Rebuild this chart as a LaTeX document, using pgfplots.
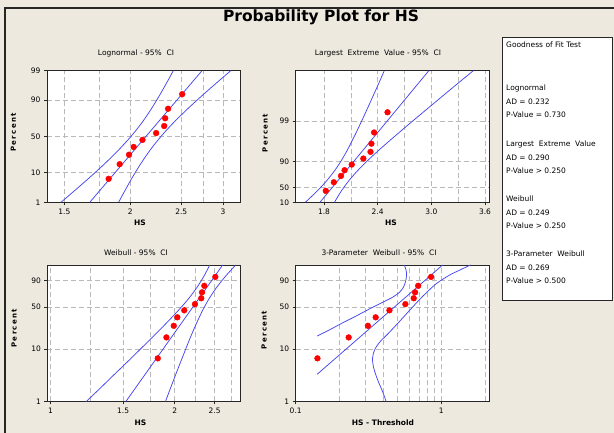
\documentclass[border=0pt]{standalone}
\usepackage{pgfplots}
\pgfplotsset{compat=1.18}
\usepackage{fontspec}
\setmainfont{DejaVu Sans}
\definecolor{bg}{RGB}{237,233,223}
\definecolor{cib}{RGB}{70,70,240}
\definecolor{grd}{RGB}{185,185,185}
\newcommand{\sm}{\fontsize{7.5}{9}\selectfont}
\newcommand{\bsm}{\bfseries\fontsize{7.5}{9}\selectfont}
\newcommand{\pct}{P\hspace{1.3pt}e\hspace{1.3pt}r\hspace{1.3pt}c\hspace{1.3pt}e\hspace{1.3pt}n\hspace{1.3pt}t}
\pgfplotsset{mm/.style={
  scale only axis, anchor=south west,
  axis line style={black!85, line width=0.9pt},
  tick align=outside, major tick length=3pt, minor tick length=0pt,
  tick pos=left,
  tick style={black!85, line width=0.6pt},
  grid=both,
  major grid style={grd, dash pattern=on 5pt off 3pt, line width=0.6pt},
  minor grid style={grd, dash pattern=on 5pt off 3pt, line width=0.6pt},
  ticklabel style={font=\sm},
  axis background/.style={fill=white},
  /pgf/number format/assume math mode=true,
},
ci/.style={cib, line width=0.75pt, smooth, tension=0.5},
pts/.style={only marks, mark=*, mark size=2.9pt, color=red, mark options={fill=red, draw=red}},
}
\begin{document}
\begin{tikzpicture}
\useasboundingbox (0,0) rectangle (614pt,433pt);
\fill[bg] (0,0) rectangle (614pt,433pt);
\draw[black!85, line width=1.3pt] (5pt,0) -- (5pt,425pt) -- (614pt,425pt);
\node[font=\bfseries\fontsize{15.5}{18}\selectfont] at (321pt,416pt) {Probability Plot for HS};

% ---------- Lognormal ----------
\begin{axis}[mm, at={(47pt,230.7pt)}, width=193pt, height=131.6pt,
  xmode=log, xmin=1.390, xmax=3.232, ymin=-2.3263, ymax=2.3263,
  xtick={1.5,2,2.5,3}, xticklabels={1.5,2,2.5,3}, minor xtick={1.75,2.75},
  ytick={-2.3263,-1.2816,0,1.2816,2.3263}, yticklabels={1,10,50,90,99}]
\addplot[ci] coordinates {(1.676,-2.3263) (2.737,2.3263)};
\addplot[ci] coordinates {(1.478,-2.3263) (1.549,-2) (1.663,-1.5) (1.780,-1) (1.896,-0.5) (2.006,0) (2.107,0.5) (2.197,1) (2.281,1.5) (2.362,2) (2.414,2.3263)};
\addplot[ci] coordinates {(1.901,-2.3263) (1.943,-2) (2.011,-1.5) (2.088,-1) (2.178,-0.5) (2.287,0) (2.420,0.5) (2.578,1) (2.759,1.5) (2.961,2) (3.104,2.3263)};
\addplot[pts] coordinates {(1.82,-1.4964) (1.91,-0.9806) (1.99,-0.6446) (2.03,-0.3700) (2.11,-0.1208) (2.24,0.1208) (2.32,0.3700) (2.33,0.6446) (2.36,0.9806) (2.51,1.4964)};
\end{axis}

% ---------- Largest Extreme Value ----------
\begin{axis}[mm, at={(295.7pt,230.7pt)}, width=193.6pt, height=131.6pt,
  xmin=1.4836, xmax=3.648, ymin=-1.527, ymax=4.600,
  xtick={1.8,2.4,3.0,3.6}, xticklabels={1.8,2.4,3.0,3.6}, minor xtick={2.1,2.7,3.3},
  ytick={-1.527,-0.834,0.3665,2.2504}, yticklabels={10,50,90,99}]
\addplot[ci] coordinates {(1.7547,-1.527) (2.9716,4.600)};
\addplot[ci] coordinates {(1.592,-1.527) (1.724,-1) (1.835,-0.5) (1.928,0) (2.006,0.5) (2.073,1) (2.134,1.5) (2.192,2) (2.248,2.5) (2.303,3) (2.357,3.5) (2.411,4) (2.474,4.6)};
\addplot[ci] coordinates {(1.917,-1.527) (1.994,-1) (2.082,-0.5) (2.188,0) (2.309,0.5) (2.440,1) (2.578,1.5) (2.718,2) (2.861,2.5) (3.005,3) (3.149,3.5) (3.294,4) (3.469,4.6)};
\addplot[pts] coordinates {(1.82,-0.9927) (1.91,-0.5940) (1.99,-0.2990) (2.03,-0.0329) (2.11,0.2304) (2.24,0.5087) (2.32,0.8217) (2.33,1.2020) (2.36,1.7232) (2.51,2.6637)};
\end{axis}

% ---------- Weibull ----------
\begin{axis}[mm, at={(47.5pt,31.5pt)}, width=193.2pt, height=136.5pt,
  xmode=log, xmin=0.983, xmax=2.892, ymin=-4.6001, ymax=1.5272,
  xtick={1,1.5,2,2.5}, xticklabels={1,1.5,2,2.5}, minor xtick={1.25,1.75,2.25,2.75},
  ytick={-4.6001,-2.2504,-0.3665,0.834}, yticklabels={1,10,50,90}]
\addplot[ci] coordinates {(1.523,-4.6001) (2.615,1.5272)};
\addplot[ci] coordinates {(1.221,-4.6) (1.320,-4) (1.407,-3.5) (1.501,-3) (1.600,-2.5) (1.704,-2) (1.815,-1.5) (1.928,-1) (2.044,-0.5) (2.158,0) (2.261,0.5) (2.351,1) (2.433,1.527)};
\addplot[ci] coordinates {(1.900,-4.6) (1.954,-4) (2.001,-3.5) (2.050,-3) (2.101,-2.5) (2.153,-2) (2.209,-1.5) (2.271,-1) (2.339,-0.5) (2.421,0) (2.523,0.5) (2.651,1) (2.811,1.527)};
\addplot[pts] coordinates {(1.82,-2.6638) (1.91,-1.7232) (1.99,-1.2020) (2.03,-0.8217) (2.11,-0.5087) (2.24,-0.2304) (2.32,0.0329) (2.33,0.2990) (2.36,0.5940) (2.51,0.9927)};
\end{axis}

% ---------- 3-Parameter Weibull ----------
\begin{axis}[mm, at={(295.7pt,31.5pt)}, width=193.8pt, height=136.5pt,
  xmode=log, xmin=0.1, xmax=2.14, ymin=-4.6001, ymax=1.5272,
  xtick={0.1,1}, xticklabels={0.1,1}, minor xtick={0.2,0.3,0.4,0.5,0.6,0.7,0.8,0.9,2},
  ytick={-4.6001,-2.2504,-0.3665,0.834}, yticklabels={1,10,50,90}]
\addplot[ci] coordinates {(0.1405,-3.377) (1.02,1.527)};
\addplot[ci] coordinates {(0.1405,-1.662) (0.1714,-1.377) (0.2113,-1.061) (0.2605,-0.760) (0.3211,-0.444) (0.396,-0.143) (0.4633,0.082) (0.5145,0.293) (0.5479,0.518) (0.5682,0.789) (0.5772,1.090) (0.5712,1.315) (0.5565,1.527)};
\addplot[ci] coordinates {(0.4174,-4.6) (0.396,-4.174) (0.3662,-3.647) (0.3439,-3.121) (0.3367,-2.670) (0.3475,-2.294) (0.3758,-1.948) (0.4283,-1.572) (0.5145,-1.016) (0.6179,-0.444) (0.7421,0.112) (0.9149,0.669) (1.128,1.060) (1.354,1.315) (1.585,1.527)};
\addplot[pts] coordinates {(0.141,-2.6638) (0.231,-1.7232) (0.313,-1.2020) (0.354,-0.8217) (0.44,-0.5087) (0.566,-0.2304) (0.646,0.0329) (0.66,0.2990) (0.693,0.5940) (0.85,0.9927)};
\end{axis}

% titles and labels
\node[font=\sm] at (136pt,380pt) {Lognormal - 95\%~ CI};
\node[font=\sm] at (378pt,380pt) {Largest~ Extreme~ Value - 95\%~ CI};
\node[font=\sm] at (136pt,180.5pt) {Weibull - 95\%~ CI};
\node[font=\sm] at (379pt,180.5pt) {3-Parameter~ Weibull - 95\%~ CI};
\node[font=\bsm] at (140pt,210.5pt) {HS};
\node[font=\bsm] at (391pt,210.5pt) {HS};
\node[font=\bsm] at (140.5pt,10.7pt) {HS};
\node[font=\bsm] at (383pt,10.7pt) {HS - Threshold};
\node[font=\bfseries\fontsize{7}{8}\selectfont, rotate=90] at (13.3pt,300.5pt) {\pct};
\node[font=\bfseries\fontsize{7}{8}\selectfont, rotate=90] at (265pt,300pt) {\pct};
\node[font=\bfseries\fontsize{7}{8}\selectfont, rotate=90] at (14pt,104.7pt) {\pct};
\node[font=\bfseries\fontsize{7}{8}\selectfont, rotate=90] at (264pt,103pt) {\pct};

% goodness of fit box
\draw[black!85, fill=white, line width=0.6pt] (502pt,396pt) rectangle (612pt,133pt);
\begin{scope}[every node/.style={anchor=west, font=\sm, inner sep=0pt}]
\node at (506pt,388pt) {Goodness of Fit Test};
\node at (506pt,345pt) {Lognormal};
\node at (506pt,331.5pt) {AD = 0.232};
\node at (506pt,318pt) {P-Value = 0.730};
\node at (506pt,289pt) {Largest~ Extreme~ Value};
\node at (506pt,275.5pt) {AD = 0.290};
\node at (506pt,262pt) {P-Value > 0.250};
\node at (506pt,234pt) {Weibull};
\node at (506pt,220.5pt) {AD = 0.249};
\node at (506pt,207pt) {P-Value > 0.250};
\node at (506pt,179pt) {3-Parameter~ Weibull};
\node at (506pt,165.5pt) {AD = 0.269};
\node at (506pt,152pt) {P-Value > 0.500};
\end{scope}
\end{tikzpicture}
\end{document}
